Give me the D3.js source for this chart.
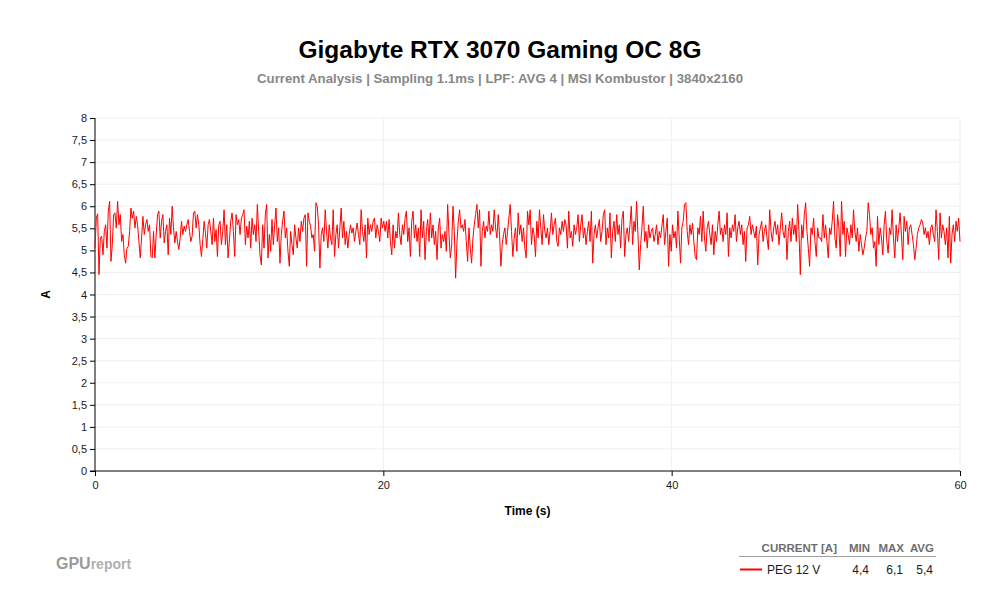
<!DOCTYPE html>
<html>
<head>
<meta charset="utf-8">
<script src="https://cdn.jsdelivr.net/npm/d3@7"></script>
<style>
  body { margin: 0; background: #fff; }
  text { font-family: "Liberation Sans", Arial, sans-serif; }
</style>
</head>
<body>
<script>
var title = 'Gigabyte RTX 3070 Gaming OC 8G'
var subtitle = 'Current Analysis | Sampling 1.1ms | LPF: AVG 4 | MSI Kombustor | 3840x2160'
var seriesName = 'PEG 12 V'
var statHeaders = ['CURRENT [A]', 'MIN', 'MAX', 'AVG']
var statValues = ['4,4', '6,1', '5,4']
var yTicks = [0, 0.5, 1, 1.5, 2, 2.5, 3, 3.5, 4, 4.5, 5, 5.5, 6, 6.5, 7, 7.5, 8]
var xTicks = [0, 20, 40, 60]
var duration = 60

var current = [
  5.05,5.73,5.83,4.45,5.28,5.32,4.90,5.43,5.58,5.05,5.89,6.11,4.75,5.13,5.81,5.85,5.51,6.11,5.58,5.81,
  5.20,5.36,4.90,4.71,5.05,5.09,5.43,5.96,5.73,5.89,5.51,5.77,5.58,5.20,4.83,5.28,5.77,5.36,5.58,5.70,
  5.43,5.58,4.86,4.83,5.43,4.83,5.36,5.81,5.89,5.28,5.66,5.81,5.17,5.43,5.58,4.90,5.73,5.36,6.00,5.51,
  5.17,5.43,5.20,5.02,5.28,5.66,5.36,5.55,5.43,5.58,5.70,5.43,5.20,5.32,5.85,5.89,5.51,5.81,5.58,5.13,
  4.86,5.24,5.66,5.39,5.05,5.58,5.70,5.43,5.13,5.73,5.20,5.47,4.86,5.58,5.66,5.13,5.43,5.92,5.13,5.58,
  4.83,5.24,5.66,5.85,5.43,4.86,5.81,5.58,5.70,
  5.36,5.73,5.81,5.92,5.13,5.55,5.28,5.66,5.05,5.73,5.36,5.58,5.20,6.04,5.43,4.90,4.67,5.58,5.05,5.81,
  6.04,4.83,5.36,4.98,5.70,5.13,5.58,5.96,5.20,5.51,4.71,5.36,5.66,5.89,5.28,5.51,4.98,4.64,5.43,5.13,
  4.90,5.58,5.28,5.05,5.51,5.20,5.66,5.43,5.73,5.81,4.64,5.85,5.66,5.55,5.28,5.36,4.98,6.08,6.00,5.58,
  4.60,5.36,5.51,5.20,5.92,5.43,5.05,5.58,5.28,5.13,5.92,4.86,5.36,5.58,5.05,5.51,5.96,5.28,5.66,5.13,
  5.43,5.05,5.36,5.58,5.39,5.51,5.20,5.43,5.62,5.36,5.13,5.92,5.43,5.20,5.58,4.83,5.73,5.36,5.58,5.43,
  5.66,5.73,5.28,5.58,5.43,5.20,5.73,5.51,5.66,
  5.43,5.66,5.28,5.70,5.20,4.90,5.58,5.05,5.43,5.28,5.85,5.36,5.13,5.58,5.36,5.73,5.89,5.20,5.51,4.86,
  5.66,5.89,5.28,5.58,5.20,5.51,4.86,5.92,5.28,5.66,4.79,5.43,5.70,5.20,5.85,5.28,5.58,5.13,5.43,4.79,
  5.51,5.73,5.05,5.36,5.20,5.43,4.98,6.04,5.36,4.83,5.13,6.00,5.43,4.37,5.20,5.66,5.92,5.51,5.58,5.43,
  5.70,5.20,4.75,5.51,5.05,4.71,5.28,5.58,5.81,6.04,5.51,5.92,4.64,5.43,5.66,5.28,5.55,5.43,5.89,5.36,
  5.58,5.43,5.92,5.51,5.28,5.81,5.36,4.64,5.13,5.36,5.51,5.13,5.43,5.73,6.04,5.43,4.86,5.28,5.51,4.98,
  5.85,5.36,5.58,5.20,5.51,5.05,4.83,5.89,5.58,
  5.92,5.13,5.51,5.36,4.86,5.66,5.28,5.92,5.51,5.13,5.81,5.43,5.28,5.51,5.13,5.43,5.85,5.36,5.58,5.73,
  5.20,5.09,5.51,5.36,5.66,5.43,5.70,5.58,5.05,5.89,5.28,5.43,5.09,5.58,5.36,5.51,5.81,5.20,5.58,5.81,
  5.28,5.51,5.13,5.43,5.66,5.20,5.89,4.71,5.36,5.58,5.28,5.51,5.70,5.20,5.43,5.81,5.92,5.13,5.51,5.28,
  5.85,4.83,5.43,5.66,5.20,5.81,5.36,5.58,5.05,5.73,5.89,4.86,5.36,5.51,5.20,5.58,6.00,5.13,5.66,5.43,
  6.11,5.36,4.56,5.13,5.51,6.00,5.20,5.43,5.05,5.58,5.28,5.43,5.51,5.20,5.36,5.58,5.13,5.43,5.28,5.55,
  5.81,5.13,5.43,5.73,4.64,5.36,4.98,5.58,5.28,
  5.43,5.05,5.89,5.28,4.71,5.51,5.66,6.04,6.08,5.43,5.13,5.58,5.36,5.62,5.20,4.86,4.79,5.51,5.36,5.77,
  5.20,5.89,5.28,4.98,5.51,5.66,5.36,5.13,5.58,4.90,5.43,5.20,5.58,5.89,5.36,5.51,5.20,5.58,5.36,5.85,
  4.86,5.51,5.28,5.58,5.43,5.81,5.20,5.51,5.66,5.36,5.58,5.13,5.43,4.75,5.51,5.58,5.77,5.36,5.58,5.43,
  5.28,5.55,4.67,5.36,5.51,5.66,5.20,5.43,5.58,5.28,5.02,5.92,5.43,5.20,5.51,5.66,5.36,5.58,5.13,5.51,
  5.85,5.43,5.28,5.58,4.79,5.43,5.66,5.20,5.73,5.36,5.58,5.20,6.04,5.43,4.45,5.58,5.28,5.81,6.08,5.43,
  5.05,4.64,5.51,5.36,5.73,5.20,4.86,5.51,5.28,
  5.28,5.20,5.81,5.28,5.58,5.20,4.83,5.51,5.36,5.66,6.11,5.28,5.05,5.81,5.51,4.86,6.11,5.36,5.66,4.86,
  5.51,5.36,5.13,5.58,5.28,5.92,5.43,5.20,5.51,4.98,5.36,5.13,4.90,5.05,5.28,5.43,6.08,5.81,5.36,5.51,
  5.05,5.20,4.64,5.77,5.13,5.51,5.28,4.90,5.58,5.89,5.20,4.94,5.51,5.36,5.92,5.28,4.83,5.58,5.20,5.51,
  5.85,5.36,4.79,5.77,5.43,5.66,5.13,5.51,5.58,5.36,5.13,4.79,5.05,5.36,5.51,5.58,5.70,5.62,5.36,5.51,
  5.28,5.43,5.13,5.51,5.58,5.36,5.20,5.92,5.43,4.79,5.85,5.28,5.58,5.43,5.13,5.51,4.83,5.77,4.71,5.36,
  5.58,5.20,5.66,5.43,5.73,5.20
]

var W = 1000, H = 600
var margin = { left: 95, right: 40, top: 118, bottom: 129 }

var svg = d3.select('body')
  .append('svg')
  .attr('width', W)
  .attr('height', H)

var x = d3.scaleLinear().domain([0, duration]).range([margin.left, W - margin.right])
var y = d3.scaleLinear().domain([0, 8]).range([H - margin.bottom, margin.top])

// titles
svg.append('text')
  .attr('x', 500).attr('y', 58)
  .attr('text-anchor', 'middle')
  .attr('font-size', '24.5px')
  .attr('font-weight', 'bold')
  .attr('fill', '#000')
  .text(title)

svg.append('text')
  .attr('x', 500).attr('y', 83)
  .attr('text-anchor', 'middle')
  .attr('font-size', '13px')
  .attr('font-weight', 'bold')
  .attr('fill', '#878787')
  .attr('textLength', 486)
  .attr('lengthAdjust', 'spacingAndGlyphs')
  .text(subtitle)

// grid
svg.selectAll('line.hgrid')
  .data(yTicks.slice(1))
  .enter()
  .append('line')
  .attr('x1', x(0)).attr('x2', x(duration))
  .attr('y1', function(d){ return y(d) }).attr('y2', function(d){ return y(d) })
  .attr('stroke', '#efefef')

svg.selectAll('line.vgrid')
  .data(xTicks.slice(1))
  .enter()
  .append('line')
  .attr('x1', function(d){ return x(d) }).attr('x2', function(d){ return x(d) })
  .attr('y1', y(0)).attr('y2', y(8))
  .attr('stroke', '#efefef')

// axes
var yAxis = d3.axisLeft(y)
  .tickValues(yTicks)
  .tickSize(5)
  .tickFormat(function(d){ return String(d).replace('.', ',') })

var xAxis = d3.axisBottom(x)
  .tickValues(xTicks)
  .tickSize(5)

var gy = svg.append('g')
  .attr('transform', 'translate(' + margin.left + ',0)')
  .call(yAxis)
gy.select('.domain').attr('d', 'M0,' + y(8) + 'V' + y(0))

var gx = svg.append('g')
  .attr('transform', 'translate(0,' + y(0) + ')')
  .call(xAxis)
gx.select('.domain').attr('d', 'M' + (x(0) - 5) + ',0H' + x(duration))

svg.selectAll('.tick text')
  .attr('font-family', '"Liberation Sans", Arial, sans-serif')
  .attr('font-size', '11px')
  .attr('fill', '#1a1a1a')
gx.selectAll('.tick text').attr('dy', '0.9em')
svg.selectAll('.domain, .tick line').attr('stroke', '#000')

// axis titles
svg.append('text')
  .attr('x', x(duration / 2)).attr('y', 515)
  .attr('text-anchor', 'middle')
  .attr('font-size', '12px')
  .attr('font-weight', 'bold')
  .text('Time (s)')

svg.append('text')
  .attr('transform', 'translate(50,' + y(4) + ') rotate(-90)')
  .attr('text-anchor', 'middle')
  .attr('font-size', '12px')
  .attr('font-weight', 'bold')
  .text('A')

// the trace
var dt = duration / (current.length - 1)
var line = d3.line()
  .x(function(d, i){ return x(i * dt) })
  .y(function(d){ return y(d) })

svg.append('path')
  .datum(current)
  .attr('d', line)
  .attr('fill', 'none')
  .attr('stroke', '#ff0000')
  .attr('stroke-width', 1)
  .attr('stroke-linejoin', 'round')

// legend table
var headX = [837, 870, 904, 934]
svg.selectAll('text.head')
  .data(statHeaders)
  .enter()
  .append('text')
  .attr('x', function(d, i){ return headX[i] })
  .attr('y', 552)
  .attr('text-anchor', 'end')
  .attr('font-size', '11.5px')
  .attr('font-weight', 'bold')
  .attr('fill', '#6e6e6e')
  .text(function(d){ return d })

svg.append('line')
  .attr('x1', 739).attr('x2', 936)
  .attr('y1', 556.5).attr('y2', 556.5)
  .attr('stroke', '#a0a0a0')

svg.append('line')
  .attr('x1', 740).attr('x2', 762)
  .attr('y1', 569.5).attr('y2', 569.5)
  .attr('stroke', '#ff0000')
  .attr('stroke-width', 2)

svg.append('text')
  .attr('x', 767).attr('y', 574)
  .attr('font-size', '12px')
  .attr('fill', '#1a1a1a')
  .text(seriesName)

svg.selectAll('text.val')
  .data(statValues)
  .enter()
  .append('text')
  .attr('x', function(d, i){ return headX[i + 1] - 1 })
  .attr('y', 574)
  .attr('text-anchor', 'end')
  .attr('font-size', '12px')
  .attr('fill', '#1a1a1a')
  .text(function(d){ return d })

// logo
var logo = svg.append('text')
  .attr('x', 56).attr('y', 569)
  .attr('fill', '#9a9a9a')
logo.append('tspan')
  .attr('font-size', '16px')
  .attr('font-weight', 'bold')
  .text('GPU')
logo.append('tspan')
  .attr('font-size', '14px')
  .attr('font-weight', 'bold')
  .attr('fill', '#b0b0b0')
  .text('report')
</script>
</body>
</html>
